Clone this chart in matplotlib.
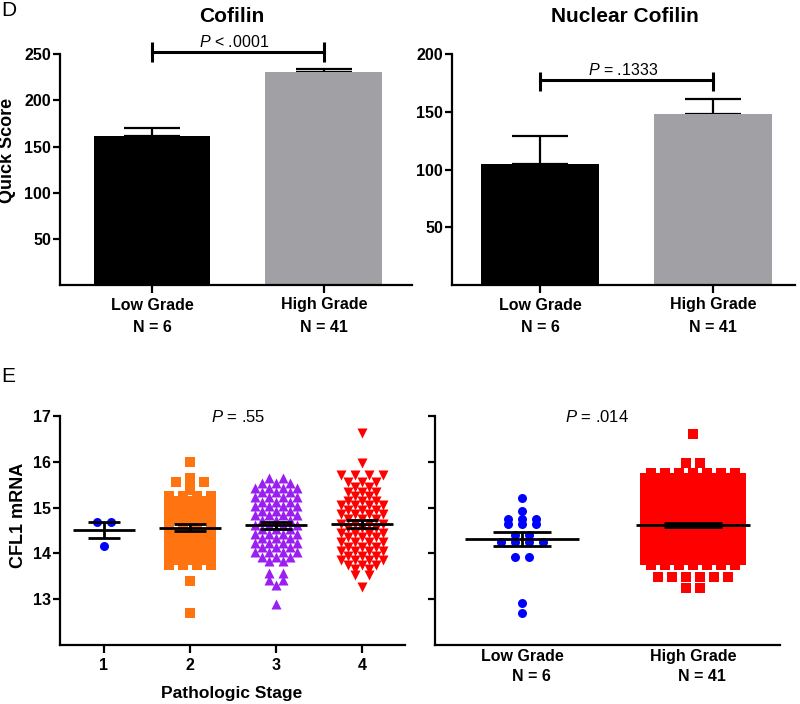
import numpy as np
import matplotlib
matplotlib.use('Agg')
import matplotlib.pyplot as plt

plt.rcParams['font.family'] = 'Liberation Sans'
plt.rcParams['font.weight'] = 'bold'
plt.rcParams['mathtext.fontset'] = 'custom'
plt.rcParams['mathtext.it'] = 'Liberation Sans:style=italic:weight=normal'
plt.rcParams['mathtext.rm'] = 'Liberation Sans:weight=normal'

# --- D: quick score (bar = mean, whisker = SEM) ---
grade_labels = ['Low Grade\nN = 6', 'High Grade\nN = 41']
grade_labels_e = ['Low Grade\n    N = 6', 'High Grade\n    N = 41']
cofilin_mean = [161, 231]
cofilin_sem = [9, 3]
nuclear_mean = [105, 148]
nuclear_sem = [24, 13]
bar_colors = ['black', '#a1a1a5']

# --- E: CFL1 mRNA, scatter rows (value, number of points) ---
stage_labels = ['1', '2', '3', '4']
stage1_lev = [14.69, 14.16]
stage1_cnt = [2, 1]
stage2_lev = [15.99, 15.64, 15.55, 15.38, 15.25, 15.15, 15.05, 14.95, 14.85, 14.75, 14.65,
              14.55, 14.45, 14.35, 14.25, 14.15, 14.05, 13.95, 13.85, 13.75, 13.4, 12.69]
stage2_cnt = [1, 1, 3, 1, 4, 3, 4, 3, 4, 3, 4, 4, 3, 4, 3, 4, 3, 4, 3, 4, 1, 1]
stage3_lev = [15.64, 15.53, 15.43, 15.33, 15.23, 15.13, 15.03, 14.93, 14.83, 14.73, 14.63, 14.53,
              14.43, 14.33, 14.23, 14.13, 14.03, 13.93, 13.83, 13.57, 13.43, 13.3, 12.9]
stage3_cnt = [2, 3, 4, 3, 4, 3, 4, 3, 4, 3, 4, 3, 4, 3, 4, 3, 4, 3, 2, 2, 2, 1, 1]
stage4_lev = [16.63, 15.97, 15.72, 15.55, 15.45, 15.35, 15.25, 15.15, 15.05, 14.95, 14.85, 14.75,
              14.65, 14.55, 14.45, 14.35, 14.25, 14.15, 14.05, 13.95, 13.85, 13.75, 13.65, 13.52, 13.26]
stage4_cnt = [1, 1, 4, 3, 2, 3, 2, 3, 4, 3, 4, 3, 4, 3, 4, 3, 4, 3, 4, 3, 4, 3, 2, 2, 1]

low_lev = [15.2, 14.93, 14.75, 14.64, 14.41, 14.25, 13.93, 12.92, 12.69]
low_cnt = [1, 1, 3, 3, 2, 4, 2, 1, 1]
high_lev = [16.6, 15.98, 15.75, 15.65, 15.55, 15.45, 15.35, 15.25, 15.15, 15.05, 14.95, 14.85,
            14.75, 14.65, 14.55, 14.5, 14.45, 14.4, 14.35, 14.3, 14.25, 14.2, 14.15, 14.1,
            14.05, 14.0, 13.95, 13.85, 13.75, 13.48, 13.25]
high_cnt = [1, 2, 7, 8, 7, 8, 7, 8, 7, 8, 7, 8,
            7, 8, 7, 8, 7, 8, 7, 8, 7, 8, 7, 8,
            7, 8, 7, 8, 7, 6, 2]


def swarm(levels, counts, center, dx):
    # GraphPad-like rows: odd rows on whole slots, even rows on half slots
    xs, ys = [], []
    for lv, n in zip(levels, counts):
        if n % 2:
            offs = [0.0]
            k = 1
            while len(offs) < n:
                offs += [-k, k]
                k += 1
        else:
            offs = []
            k = 0
            while len(offs) < n:
                offs += [-(k + 0.5), k + 0.5]
                k += 1
        xs += [center + o * dx for o in offs[:n]]
        ys += [lv] * n
    return np.array(xs), np.array(ys)


def mean_sem(ax, x, y, half_mean, half_sem):
    m = y.mean()
    s = y.std(ddof=1) / np.sqrt(len(y))
    ax.hlines(m, x - half_mean, x + half_mean, color='black', lw=2, zorder=4)
    ax.hlines([m - s, m + s], x - half_sem, x + half_sem, color='black', lw=2, zorder=4)
    ax.vlines(x, m - s, m + s, color='black', lw=2, zorder=4)


def style(ax, xtick_len=6):
    ax.spines['top'].set_visible(False)
    ax.spines['right'].set_visible(False)
    ax.spines['left'].set_linewidth(1.6)
    ax.spines['bottom'].set_linewidth(1.6)
    ax.tick_params(axis='y', width=1.6, length=5, labelsize=11.5, pad=1.5)
    ax.tick_params(axis='x', width=1.6, length=xtick_len, labelsize=11.5, pad=3)


fig = plt.figure(figsize=(8, 7.04), dpi=100)


def rect(l, t, r, b):
    return [l / 800, 1 - b / 704, (r - l) / 800, (b - t) / 704]


def ftext(x, y, s, **kw):
    fig.text(x / 800, 1 - y / 704, s, **kw)


ax1 = fig.add_axes(rect(60, 54.3, 412, 285))
ax2 = fig.add_axes(rect(452, 54.3, 795, 285))
ax3 = fig.add_axes(rect(60, 416, 405, 645))
ax4 = fig.add_axes(rect(435, 416, 780, 645))

# --- D bars ---
pos = np.arange(2)
for ax, means, sems, top, ticks in [(ax1, cofilin_mean, cofilin_sem, 250, [50, 100, 150, 200, 250]),
                                    (ax2, nuclear_mean, nuclear_sem, 200, [50, 100, 150, 200])]:
    ax.errorbar(pos, means, yerr=[[0, 0], sems], fmt='none', ecolor='black',
                elinewidth=1.6, capsize=20, capthick=1.6, zorder=1)
    ax.bar(pos, means, width=0.68, color=bar_colors, zorder=2)
    ax.set_ylim(0, top)
    ax.set_yticks(ticks)
    ax.set_xticks(pos)
    ax.set_xticklabels(grade_labels, linespacing=1.6)
    style(ax)

ax1.set_xlim(-0.535, 1.512)
ax2.set_xlim(-0.509, 1.474)

# significance brackets
ax1.plot([0, 1], [252, 252], color='black', lw=2.2, clip_on=False)
ax1.vlines([0, 1], 242, 263, color='black', lw=2.2, clip_on=False)
ax2.plot([0, 1], [177.6, 177.6], color='black', lw=2.2, clip_on=False)
ax2.vlines([0, 1], 168, 185, color='black', lw=2.2, clip_on=False)

# --- E scatter: stage ---
stage_groups = [(stage1_lev, stage1_cnt, 'o', '#0000ff', 42),
                (stage2_lev, stage2_cnt, 's', '#ff7410', 52),
                (stage3_lev, stage3_cnt, '^', '#9a1ff0', 52),
                (stage4_lev, stage4_cnt, 'v', '#ff0000', 52)]
for i, (lev, cnt, mk, col, sz) in enumerate(stage_groups):
    x, y = swarm(lev, cnt, i + 1, 0.16)
    ax3.scatter(x, y, marker=mk, s=sz, color=col, linewidths=0, zorder=3)
    mean_sem(ax3, i + 1, y, 0.36, 0.19)
ax3.set_xlim(0.49, 4.5)
ax3.set_ylim(12, 17)
ax3.set_yticks([13, 14, 15, 16, 17])
ax3.set_xticks([1, 2, 3, 4])
ax3.set_xticklabels(stage_labels)
style(ax3)

# --- E scatter: grade ---
x, y = swarm(low_lev, low_cnt, 1, 0.081)
ax4.scatter(x, y, marker='o', s=42, color='#0000ff', linewidths=0, zorder=3)
mean_sem(ax4, 1, y, 0.336, 0.17)
x, y = swarm(high_lev, high_cnt, 2, 0.081)
ax4.scatter(x, y, marker='s', s=52, color='#ff0000', linewidths=0, zorder=3)
mean_sem(ax4, 2, y, 0.336, 0.17)
ax4.set_xlim(0.491, 2.509)
ax4.set_ylim(12, 17)
ax4.set_yticks([13, 14, 15, 16, 17])
ax4.set_yticklabels([])
ax4.set_xticks([1, 2])
ax4.set_xticklabels(grade_labels_e, linespacing=1.4)
style(ax4, xtick_len=0)

# --- labels ---
ftext(232, 22, 'Cofilin', ha='center', va='baseline', fontsize=15)
ftext(625, 22, 'Nuclear Cofilin', ha='center', va='baseline', fontsize=15)
ftext(234, 46.7, r'$\mathit{P}$ < .0001', ha='center', va='baseline', fontsize=11.5, fontweight='normal')
ftext(623, 75, r'$\mathit{P}$ = .1333', ha='center', va='baseline', fontsize=11.5, fontweight='normal')
ftext(238, 422, r'$\mathit{P}$ = .55', ha='center', va='baseline', fontsize=12, fontweight='normal')
ftext(597, 422, r'$\mathit{P}$ = .014', ha='center', va='baseline', fontsize=12, fontweight='normal')
ftext(8, 150, 'Quick Score', ha='center', va='center', rotation=90, fontsize=13)
ftext(19, 515, 'CFL1 mRNA', ha='center', va='center', rotation=90, fontsize=13)
ftext(232, 698, 'Pathologic Stage', ha='center', va='baseline', fontsize=12.5)
ftext(1, 11, 'D', ha='left', va='center', fontsize=15, fontweight='normal')
ftext(1, 377, 'E', ha='left', va='center', fontsize=15, fontweight='normal')

fig.savefig('out.png', dpi=100)
